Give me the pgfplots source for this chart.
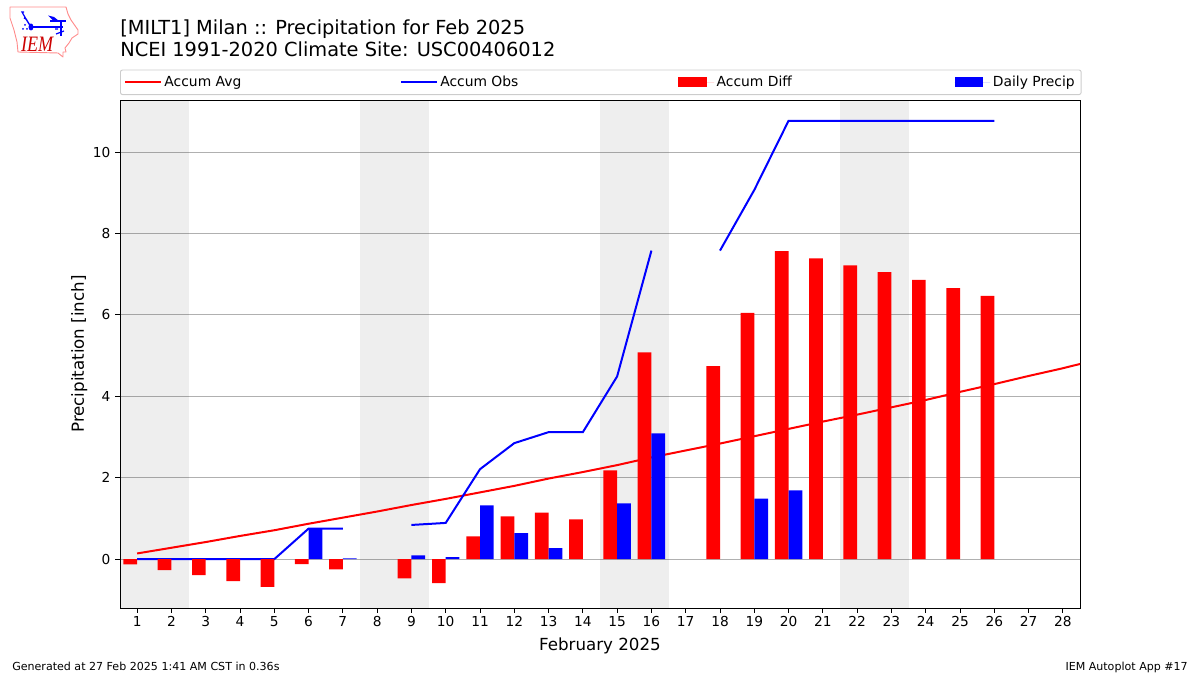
\documentclass[border=0pt]{standalone}
\usepackage{pgfplots}
\pgfplotsset{compat=1.18}
\usepackage{fontspec}
\setmainfont{DejaVu Sans}
\newfontfamily\iemfont{Liberation Serif}
\definecolor{legline}{HTML}{CCCCCC}
\definecolor{gridc}{HTML}{B0B0B0}
\begin{document}
\begin{tikzpicture}
\path[use as bounding box] (0,0) rectangle (900pt,506.25pt);
\begin{axis}[
  at={(90pt,50.25pt)}, anchor=south west,
  scale only axis, width=720pt, height=381pt,
  xmin=0.5, xmax=28.5, ymin=-1.2, ymax=11.28,
  xtick={1,2,...,28}, ytick={0,2,4,6,8,10},
  xtick pos=bottom, ytick pos=left,
  tick align=outside,
  major tick length=3.65pt,
  every tick/.style={black,line width=0.65pt},
  axis line style={line width=0.65pt},
  ymajorgrids, grid style={gridc,line width=0.75pt},
  tick label style={font=\fontsize{10.3}{12}\selectfont},
  /pgf/number format/assume math mode=true,
  x tick label style={yshift=0.9pt},
  xlabel={February 2025}, ylabel={Precipitation [inch]},
  label style={font=\fontsize{12.5}{15}\selectfont},
  xlabel style={at={(0.5,0)},anchor=north,yshift=-19pt},
  ylabel style={at={(0,0.5)},anchor=south,rotate=0,yshift=21pt},
  unbounded coords=jump,
  legend columns=4,
  legend style={
    at={(0,1.0098)}, anchor=south west, draw=legline, rounded corners=1.5pt,
    line width=0.7pt,
    font=\fontsize{10.4}{12}\selectfont,
    inner xsep=2.8pt, inner ysep=2.5pt,
    /tikz/column 2/.style={column sep=117pt},
    /tikz/column 4/.style={column sep=118pt},
    /tikz/column 6/.style={column sep=120pt},
    cells={anchor=west},
  },
  legend cell align=left,
]
% weekend shading
\addplot[forget plot, draw=none, fill=black, fill opacity=0.067] coordinates {(0.5,-1.2)(2.5,-1.2)(2.5,11.28)(0.5,11.28)} -- cycle;
\addplot[forget plot, draw=none, fill=black, fill opacity=0.067] coordinates {(7.5,-1.2)(9.5,-1.2)(9.5,11.28)(7.5,11.28)} -- cycle;
\addplot[forget plot, draw=none, fill=black, fill opacity=0.067] coordinates {(14.5,-1.2)(16.5,-1.2)(16.5,11.28)(14.5,11.28)} -- cycle;
\addplot[forget plot, draw=none, fill=black, fill opacity=0.067] coordinates {(21.5,-1.2)(23.5,-1.2)(23.5,11.28)(21.5,11.28)} -- cycle;
% lines
\addplot[red, line width=1.5pt, no markers, legend image code/.code={\path (0,0)--(26.7pt,0);\draw[sharp corners,red,line width=1.5pt] (0,0) -- (21.5pt,0);}] coordinates {
 (1,0.14)(2,0.28)(3,0.42)(4,0.57)(5,0.71)(6,0.87)(7,1.02)(8,1.17)(9,1.33)(10,1.48)
 (11,1.64)(12,1.80)(13,1.98)(14,2.14)(15,2.31)(16,2.50)(17,2.67)(18,2.84)(19,3.02)(20,3.20)
 (21,3.38)(22,3.55)(23,3.73)(24,3.91)(25,4.11)(26,4.30)(27,4.50)(28,4.69)(29,4.90)};
\addlegendentry{Accum Avg}
\addplot[blue, line width=1.5pt, no markers, legend image code/.code={\path (0,0)--(26.7pt,0);\draw[sharp corners,blue,line width=1.5pt] (0,0) -- (21.5pt,0);}] coordinates {
 (1,0)(2,0)(3,0)(4,0)(5,0)(6,0.75)(7,0.75)(8,nan)(9,0.84)(10,0.89)
 (11,2.21)(12,2.85)(13,3.12)(14,3.12)(15,4.49)(16,7.58)(17,nan)(18,7.58)(19,9.07)(20,10.77)
 (21,10.77)(22,10.77)(23,10.77)(24,10.77)(25,10.77)(26,10.77)};
\addlegendentry{Accum Obs}
% bars
\addplot[ybar, bar width=0.4, bar shift=-0.2, fill=red, draw=none,
  legend image code/.code={\path (0,0)--(26.7pt,0);\fill[sharp corners,red] (0,-3.7pt) rectangle (21.5pt,3.7pt);}] coordinates {
 (1,-0.13)(2,-0.27)(3,-0.39)(4,-0.54)(5,-0.68)(6,-0.12)(7,-0.25)(9,-0.47)(10,-0.59)
 (11,0.56)(12,1.05)(13,1.14)(14,0.98)(15,2.18)(16,5.08)(18,4.74)(19,6.05)(20,7.57)
 (21,7.39)(22,7.22)(23,7.05)(24,6.86)(25,6.66)(26,6.47)};
\addlegendentry{Accum Diff}
\addplot[ybar, bar width=0.4, bar shift=0.2, fill=blue, draw=none,
  legend image code/.code={\path (0,0)--(26.7pt,0);\fill[sharp corners,blue] (0,-3.7pt) rectangle (21.5pt,3.7pt);}] coordinates {
 (6,0.75)(7,0.02)(9,0.09)(10,0.05)(11,1.32)(12,0.64)(13,0.27)(15,1.37)(16,3.09)(19,1.49)(20,1.69)};
\addlegendentry{Daily Precip}
\end{axis}
\begin{scope}[x=0.75pt,y=-0.75pt,yshift=506.25pt]
\node[anchor=base west,inner sep=0,font=\fontsize{14.53}{17}\selectfont] at (120,35) {[MILT1] Milan :: Precipitation for Feb 2025};
\node[anchor=base west,inner sep=0,font=\fontsize{14.53}{17}\selectfont] at (120,57) {NCEI 1991-2020 Climate Site: USC00406012};
\node[anchor=base west,inner sep=0,font=\fontsize{8.3}{10}\selectfont] at (12,670) {Generated at 27 Feb 2025 1:41 AM CST in 0.36s};
\node[anchor=base east,inner sep=0,font=\fontsize{8.3}{10}\selectfont] at (1188,670) {IEM Autoplot App \#17};
% logo
\draw[red!45!white,line width=0.7pt,line join=round]
 (10,7)--(66,7)--(68,14)--(71,20)--(78,30)--(78,34)--(72,38)--(69,43)--(65,48)--(66,52)--(63,52)--(63,57)--(58,53)--(18,52)--(17,42)--(14,30)--(10,18)--cycle;
\draw[blue,line width=1.1pt] (31,27)--(63,27);
\draw[blue,line width=1pt] (26,19)--(31,27);
\draw[blue,line width=0.9pt] (24,18)--(26,19)--(22,12)--(24,12);
\fill[blue] (31,27) ellipse (2.5 and 3.5);
\fill[blue] (48,15.5)--(54,17)--(59,21)--(53,20.5)--cycle;
\draw[blue,line width=0.8pt] (50,21)--(66,21);
\draw[blue,line width=0.9pt] (61,21)--(61,36);
\draw[blue,line width=0.9pt] (55,29)--(58,29) (56,34)--(64,31);
\fill[blue] (25,25) circle (1); \fill[blue] (23,29) circle (1); \fill[blue] (27,29) circle (1);
\node[anchor=base west,inner sep=0,text=red!80!black,xscale=0.82,transform shape,font=\iemfont\itshape\fontsize{16.5}{18}\selectfont] at (21,52) {IEM};
\end{scope}
\end{tikzpicture}
\end{document}
